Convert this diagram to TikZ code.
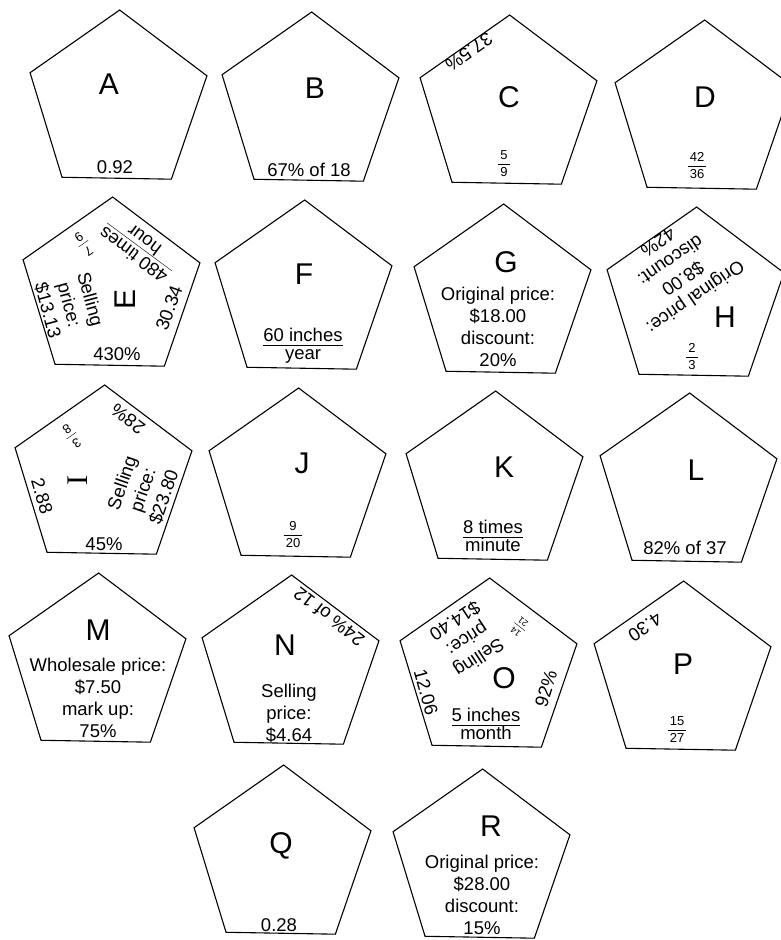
\documentclass[tikz,border=0pt]{standalone}
\usepackage{fontspec}
\setmainfont{Liberation Sans}
\newfontfamily\serifI{Liberation Serif}
\usetikzlibrary{shapes.geometric}
\newcommand{\ov}[2]{\begin{tabular}{@{}c@{}}#1\\[-3pt]\hline\noalign{\vskip -1pt}#2\end{tabular}}
\newcommand{\sfr}[2]{\begin{tabular}{@{\,}c@{\,}}#1\\[0pt]\hline\noalign{\vskip 1.5pt}#2\end{tabular}}
\tikzset{
  penta/.style={draw, line width=1.1pt, shape=regular polygon, regular polygon sides=5,
    minimum size=186pt, inner sep=0pt, rotate=-1},
  txt/.style={font=\fontsize{18.5}{22}\selectfont, align=center, inner sep=0pt},
  letter/.style={font=\fontsize{30}{30}\selectfont, inner sep=0pt},
  small/.style={font=\fontsize{13}{15}\selectfont, inner sep=0pt},
  tiny/.style={font=\fontsize{9}{10}\selectfont, inner sep=0pt},
}
\begin{document}
\begin{tikzpicture}[x=1pt,y=1pt]
\useasboundingbox (0,0) rectangle (780,-940);
\fill[white] (0,0) rectangle (780,-940);
% Row 1
\node[penta] (pA) at (118,-103) {};
\node[letter] (lA) at (109,-84) {A};
\node[txt] (tA) at (115,-167) {0.92};

\node[penta] (pB) at (310,-105) {};
\node[letter] (lB) at (315,-88) {B};
\node[txt] (tB) at (309,-170) {67\% of 18};

\node[penta] (pC) at (508,-108) {};
\node[letter] (lC) at (509,-97) {C};
\node[small] (fC) at (504,-165) {\sfr{5}{9}};
\node[txt, rotate=215] (rC) at (469,-52) {37.5\%};

\node[penta] (pD) at (703,-113) {};
\node[letter] (lD) at (705,-97) {D};
\node[small] (fD) at (697,-167) {\sfr{42}{36}};

% Row 2
\node[penta] (pE) at (111,-290) {};
\node[letter, rotate=90] (lE) at (125,-299) {E};
\node[txt, rotate=143.5] (rE1) at (140,-246) {\ov{480 times}{hour}};
\node[small, rotate=215] (fE) at (83,-243) {\sfr{7}{9}};
\node[txt, rotate=-75] (rE2) at (69,-305) {Selling\\price:\\\$13.13};
\node[txt, rotate=70] (rE3) at (169,-308) {30.34};
\node[txt] (tE) at (117,-354) {430\%};

\node[penta] (pF) at (303,-293) {};
\node[letter] (lF) at (304,-274) {F};
\node[txt] (tF) at (303,-346) {\ov{60 inches}{year}};

\node[penta] (pG) at (502,-297) {};
\node[letter] (lG) at (506,-262) {G};
\node[txt] (tG) at (498,-327) {Original price:\\\$18.00\\discount:\\20\%};

\node[penta] (pH) at (695,-300) {};
\node[letter] (lH) at (725,-317) {H};
\node[txt, rotate=214.4] (rH) at (677,-270) {Original price:\\\$8.00\\discount:\\42\%};
\node[small] (fH) at (692,-358) {\sfr{2}{3}};

% Row 3
\node[penta] (pI) at (103,-478) {};
\node[letter, font=\serifI\fontsize{30}{30}\selectfont, rotate=90] (lI) at (78,-480) {I};
\node[small, rotate=215] (fI) at (71,-435) {\sfr{3}{8}};
\node[txt, rotate=143] (rI1) at (128,-419) {28\%};
\node[txt, rotate=-73.5] (rI2) at (42,-496) {2.88};
\node[txt, rotate=71] (rI3) at (143,-490) {Selling\\price:\\\$23.80};
\node[txt] (tI) at (104,-544) {45\%};

\node[penta] (pJ) at (297,-481) {};
\node[letter] (lJ) at (302,-463) {J};
\node[small] (fJ) at (293,-536) {\sfr{9}{20}};

\node[penta] (pK) at (494,-484) {};
\node[letter] (lK) at (504,-467) {K};
\node[txt] (tK) at (493,-538) {\ov{8 times}{minute}};

\node[penta] (pL) at (688,-486) {};
\node[letter] (lL) at (696,-470) {L};
\node[txt] (tL) at (685,-548) {82\% of 37};

% Row 4
\node[penta] (pM) at (97,-666) {};
\node[letter] (lM) at (98,-630) {M};
\node[txt] (tM) at (98,-698) {Wholesale price:\\\$7.50\\mark up:\\75\%};

\node[penta] (pN) at (290,-668) {};
\node[letter] (lN) at (285,-645) {N};
\node[txt] (tN) at (289,-713) {Selling\\price:\\\$4.64};
\node[txt, rotate=142.4] (rN) at (329,-617) {24\% of 12};

\node[penta] (pO) at (488,-671) {};
\node[letter] (lO) at (504,-678) {O};
\node[txt, rotate=-74.5] (rO1) at (426,-692) {12.06};
\node[txt, rotate=72.5] (rO2) at (546,-689) {92\%};
\node[txt] (tO) at (486,-726) {\ov{5 inches}{month}};
\node[txt, rotate=213.4] (rO3) at (467,-639) {Selling\\price:\\\$14.40};
\node[tiny, rotate=142] (fO) at (520,-626) {\sfr{14}{21}};

\node[penta] (pP) at (682,-674) {};
\node[letter] (lP) at (683,-664) {P};
\node[txt, rotate=214] (rP) at (645,-627) {4.30};
\node[small] (fP) at (677,-731) {\sfr{15}{27}};

% Row 5
\node[penta] (pQ) at (282,-858) {};
\node[letter] (lQ) at (281,-846) {Q};
\node[txt] (tQ) at (279,-925) {0.28};

\node[penta] (pR) at (481,-862) {};
\node[letter] (lR) at (491,-826) {R};
\node[txt] (tR) at (482,-895) {Original price:\\\$28.00\\discount:\\15\%};
\end{tikzpicture}
\end{document}
